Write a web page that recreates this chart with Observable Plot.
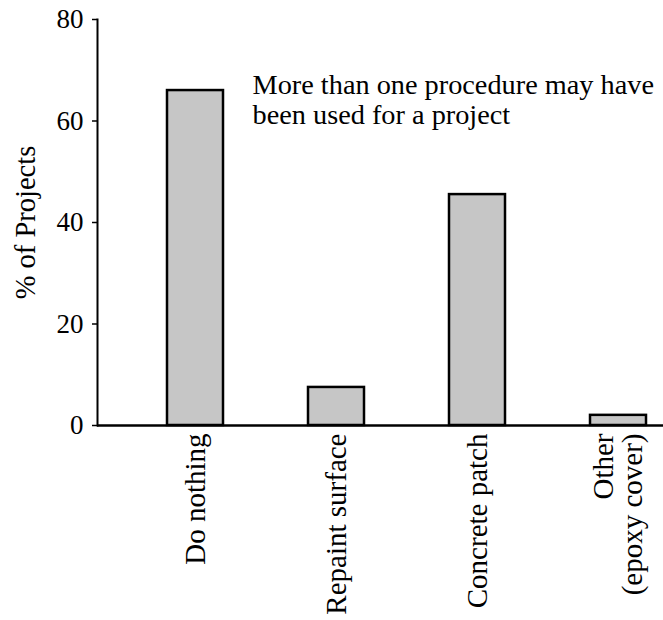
<!DOCTYPE html>
<html>
<head>
<meta charset="utf-8">
<script src="https://cdn.jsdelivr.net/npm/d3@7"></script>
<script src="https://cdn.jsdelivr.net/npm/@observablehq/plot@0.6"></script>
<style>
  html, body { margin: 0; padding: 0; background: #fff; }
  #chart { width: 663px; height: 620px; }
</style>
</head>
<body>
<div id="chart"></div>
<script>
// Data
const categories = ["Do nothing", "Repaint surface", "Concrete patch", "Other\n(epoxy cover)"];
const percents = [66, 7.5, 45.5, 2];
const yTicks = [0, 20, 40, 60, 80];
const yLabel = "% of Projects";
const note = "More than one procedure may have\nbeen used for a project";

const data = categories.map((c, i) => ({category: c, value: percents[i]}));
const serif = "'Liberation Serif', 'Times New Roman', serif";

const chart = Plot.plot({
  width: 663,
  height: 620,
  marginTop: 19,
  marginBottom: 195,
  marginLeft: 97,
  marginRight: 0,
  style: {fontFamily: serif, color: "#000", background: "#fff"},
  x: {type: "band", domain: categories, range: [97, 717], paddingInner: 0.6, paddingOuter: 0.49},
  y: {domain: [0, 80]},
  marks: [
    Plot.barY(data, {x: "category", y: "value", fill: "#c6c6c6", stroke: "#000", strokeWidth: 2.5}),
    Plot.ruleY([0], {stroke: "#000", strokeWidth: 2.5}),
    Plot.frame({anchor: "left", stroke: "#000", strokeWidth: 2}),
    Plot.axisY({ticks: yTicks, tickSize: 5, tickPadding: 9, fontSize: 27, fontFamily: serif, label: null, stroke: "#000", strokeWidth: 1.5}),
    Plot.axisX({tickRotate: -90, tickSize: 0, tickPadding: 8, fontSize: 29, fontFamily: serif, label: null}),
    Plot.text([yLabel], {frameAnchor: "left", dx: -72, rotate: -90, fontSize: 28.5, fontFamily: serif, fill: "#000", textAnchor: "middle"}),
    Plot.text([note], {frameAnchor: "top-left", dx: 155, dy: 53, fontSize: 28.3, fontFamily: serif, fill: "#000", textAnchor: "start", lineAnchor: "top", lineHeight: 1.07})
  ]
});
document.getElementById("chart").appendChild(chart);
</script>
</body>
</html>
